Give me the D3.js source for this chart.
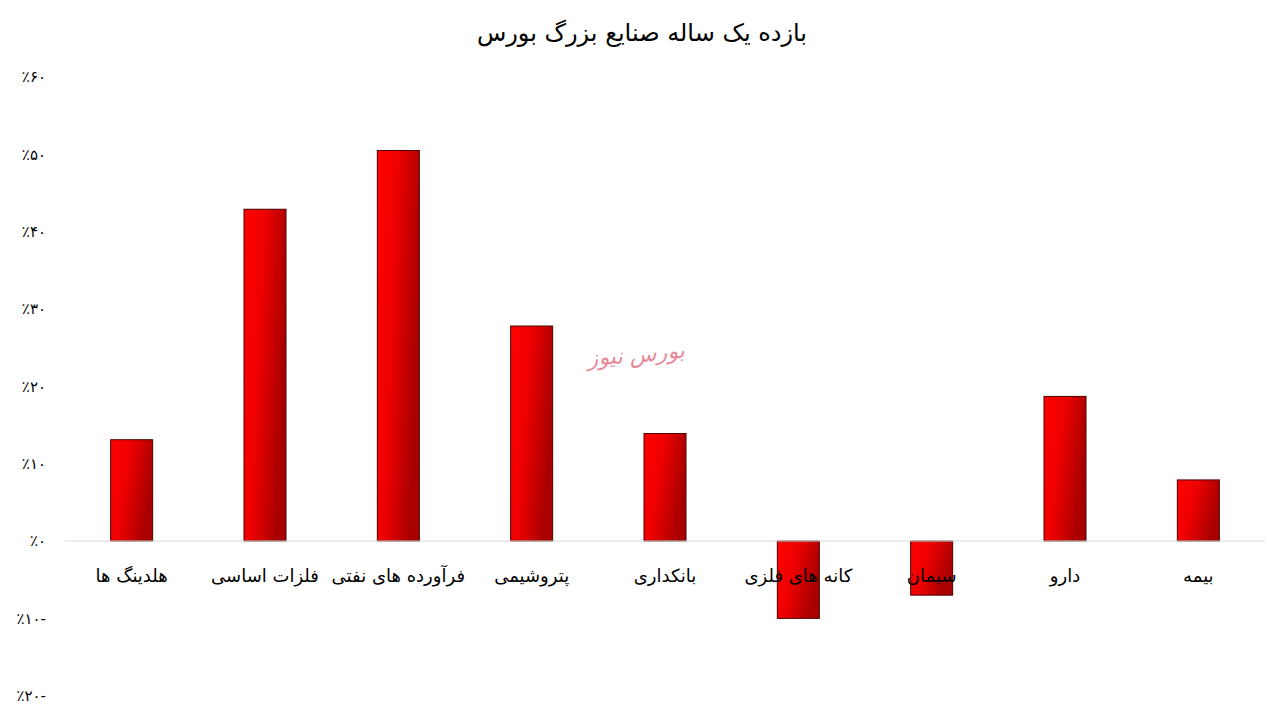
<!DOCTYPE html>
<html><head><meta charset="utf-8">
<script src="https://cdn.jsdelivr.net/npm/d3@7/dist/d3.min.js"></script>
<style>
html,body{margin:0;padding:0;background:#fff;}
svg{display:block;}
</style></head>
<body>
<svg id="chart" width="1268" height="712"></svg>
<script>
const title = "بازده یک ساله صنایع بزرگ بورس";
const categories = ["هلدینگ ها","فلزات اساسی","فرآورده های نفتی","پتروشیمی","بانکداری","کانه های فلزی","سیمان","دارو","بیمه"];
const values = [13.1, 42.9, 50.5, 27.8, 13.9, -10.0, -7.0, 18.7, 7.9];
const tickValues = [60, 50, 40, 30, 20, 10, 0, -10, -20];
const tickLabels = ["٪۶۰","٪۵۰","٪۴۰","٪۳۰","٪۲۰","٪۱۰","٪۰","٪۱۰-","٪۲۰-"];
const watermark = "بورس نیوز";

const svg = d3.select("#chart");
const margin = {left: 65, right: 3};
const W = 1268, H = 712;

const x = d3.scaleBand().domain(categories).range([margin.left, W - margin.right]).paddingInner(0.685).paddingOuter(0.3425);
const y = d3.scaleLinear().domain([-20, 60]).range([695.7, 77]);

const defs = svg.append("defs");
const grad = defs.append("linearGradient").attr("id","barGrad")
  .attr("x1","0").attr("y1","0").attr("x2","1").attr("y2","0.35");
grad.append("stop").attr("offset","0").attr("stop-color","#ff0202");
grad.append("stop").attr("offset","0.45").attr("stop-color","#ee0000");
grad.append("stop").attr("offset","1").attr("stop-color","#a80000");

// title
svg.append("text").attr("x", 642).attr("y", 41).attr("text-anchor","middle")
  .attr("font-family","DejaVu Sans, sans-serif").attr("font-size", 24).attr("fill","#000")
  .text(title);

// y tick labels
const yAxis = d3.axisLeft(y).tickValues(tickValues)
  .tickFormat((d,i) => tickLabels[i]).tickSize(0).tickPadding(0);
const ya = svg.append("g").attr("transform","translate(46,0)").call(yAxis);
ya.select(".domain").remove();
ya.selectAll("text").attr("font-family","DejaVu Sans, sans-serif").attr("font-size", 15)
  .attr("fill","#000").style("direction","ltr").style("unicode-bidi","bidi-override");

// bars
svg.append("g").selectAll("rect").data(values).join("rect")
  .attr("x", (d,i) => x(categories[i]))
  .attr("width", x.bandwidth())
  .attr("y", d => y(Math.max(0,d)))
  .attr("height", d => Math.abs(y(d) - y(0)))
  .attr("fill","url(#barGrad)")
  .attr("stroke","#4a0000").attr("stroke-width",1);

// zero line
svg.append("line").attr("x1", margin.left).attr("x2", W - 3)
  .attr("y1", y(0)).attr("y2", y(0)).attr("stroke","#d9d9d9").attr("stroke-width",1);

// category labels
const xAxis = d3.axisBottom(x).tickSize(0).tickPadding(0);
const xa = svg.append("g").attr("transform", `translate(0,${y(0)+41})`).call(xAxis);
xa.select(".domain").remove();
xa.selectAll("text").attr("font-family","DejaVu Sans, sans-serif").attr("font-size", 18)
  .attr("fill","#000").attr("dy", 0);

// watermark
svg.append("text").attr("x", 636).attr("y", 362).attr("text-anchor","middle")
  .attr("font-family","DejaVu Serif, serif").attr("font-style","italic").attr("font-size", 22)
  .attr("fill","#e8899a").attr("transform","rotate(-5,636,355)").text(watermark);
</script>
</body></html>
